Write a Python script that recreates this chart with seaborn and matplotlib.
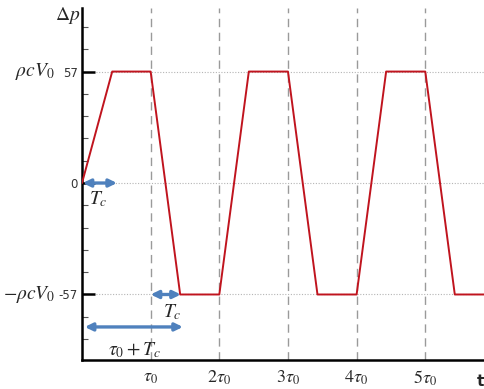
import numpy as np
import pandas as pd
import seaborn as sns
import matplotlib
matplotlib.use("Agg")
import matplotlib.pyplot as plt
from matplotlib.ticker import FixedLocator
from matplotlib.transforms import blended_transform_factory

# ---- data ----
t_vals = [0, 0.44, 1.0, 1.43, 2.0, 2.43, 3.0, 3.43, 4.0, 4.43, 5.0, 5.43, 5.9]
p_vals = [0, 57, 57, -57, -57, 57, 57, -57, -57, 57, 57, -57, -57]
x_ticks = [1, 2, 3, 4, 5]
x_tick_labels = [r"$\tau_0$", r"$2\tau_0$", r"$3\tau_0$", r"$4\tau_0$", r"$5\tau_0$"]
y_major = [-57, 0, 57]
y_major_labels = ["-57", "0", "57"]
y_minor = [-79.8, -68.4, -45.6, -34.2, -22.8, -11.4, 11.4, 22.8, 34.2, 45.6, 68.4, 79.8]

sns.set_style("white")
plt.rcParams["mathtext.fontset"] = "stix"
plt.rcParams["font.family"] = ["DejaVu Sans"]

fig = plt.figure(figsize=(4.85, 3.89), dpi=100)
ax = fig.add_axes([82 / 485, 29 / 389, 1 - 82 / 485, (360 - 8) / 389])

df = pd.DataFrame({"t": t_vals, "p": p_vals})
sns.lineplot(data=df, x="t", y="p", sort=False, estimator=None, color="#c0141e",
             linewidth=1.4, ax=ax, zorder=3)

ax.set_xlim(0, 5.87)
ax.set_ylim(-90.5, 89.5)
ax.set_xlabel("")
ax.set_ylabel("")

# reference lines
for xv in x_ticks:
    ax.axvline(xv, color="#9a9a9a", lw=1.0, ls=(0, (6, 4)), zorder=0.5)
for yv in y_major:
    ax.axhline(yv, color="#b5b5b5", lw=0.8, ls=(0, (1, 1.5)), zorder=0.5)

# spines
for s in ["top", "right"]:
    ax.spines[s].set_visible(False)
for s in ["left", "bottom"]:
    ax.spines[s].set_color("black")
    ax.spines[s].set_linewidth(1.8)

ax.xaxis.set_major_locator(FixedLocator(x_ticks))
ax.set_xticklabels(x_tick_labels, fontsize=13)
ax.yaxis.set_major_locator(FixedLocator(y_major))
ax.set_yticklabels(y_major_labels, fontsize=8.5, color="#333333")
ax.yaxis.set_minor_locator(FixedLocator(y_minor))
ax.tick_params(axis="x", which="major", direction="in", length=6, width=1.6,
               color="black", pad=6)
ax.tick_params(axis="y", which="major", direction="in", length=9, width=1.8,
               color="black", pad=3, left=True)
ax.tick_params(axis="y", which="minor", direction="in", length=4, width=0.8,
               color="#555555", left=True)

# annotations
arrow_kw = dict(arrowstyle="<|-|>,head_length=0.45,head_width=0.22", lw=2.4,
                color="#4f81bd", shrinkA=0, shrinkB=0)
ax.annotate("", xy=(0.51, 0), xytext=(0.01, 0), arrowprops=arrow_kw, zorder=4)
ax.annotate("", xy=(1.44, -57), xytext=(1.0, -57), arrowprops=arrow_kw, zorder=4)
ax.annotate("", xy=(1.47, -73.6), xytext=(0.04, -73.6), arrowprops=arrow_kw, zorder=4)

ax.text(0.24, -8.5, r"$T_c$", fontsize=14, ha="center", va="center")
ax.text(1.32, -66, r"$T_c$", fontsize=14, ha="center", va="center")
ax.text(0.77, -85.5, r"$\tau_0+T_c$", fontsize=14, ha="center", va="center")

trans = blended_transform_factory(fig.transFigure, ax.transData)
ax.text(55 / 485, 57, r"$\rho c V_0$", fontsize=14, ha="right", va="center",
        transform=trans)
ax.text(55 / 485, -57, r"$-\rho c V_0$", fontsize=14, ha="right", va="center",
        transform=trans)

fig.text(68 / 485, 1 - 15 / 389, r"$\Delta p$", fontsize=14, ha="center", va="center")
fig.text(0.998, 1 - 381 / 389, "t", fontsize=11, ha="right", va="center",
         fontweight="bold")

fig.savefig("out.png", dpi=100)
